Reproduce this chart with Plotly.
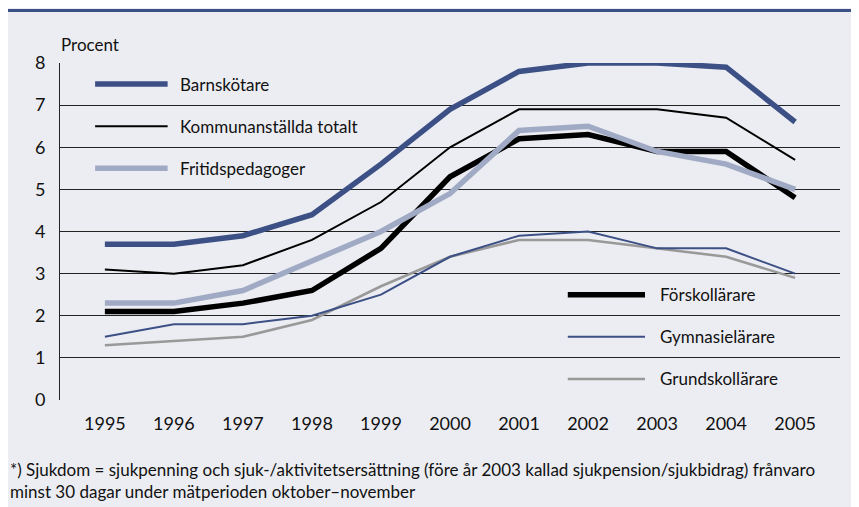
import plotly.graph_objects as go

years = [1995, 1996, 1997, 1998, 1999, 2000, 2001, 2002, 2003, 2004, 2005]

barnskotare = [3.7, 3.7, 3.9, 4.4, 5.6, 6.9, 7.8, 8.0, 8.0, 7.9, 6.6]
kommunanstallda = [3.1, 3.0, 3.2, 3.8, 4.7, 6.0, 6.9, 6.9, 6.9, 6.7, 5.7]
fritidspedagoger = [2.3, 2.3, 2.6, 3.3, 4.0, 4.9, 6.4, 6.5, 5.9, 5.6, 5.0]
forskollarare = [2.1, 2.1, 2.3, 2.6, 3.6, 5.3, 6.2, 6.3, 5.9, 5.9, 4.8]
gymnasielarare = [1.5, 1.8, 1.8, 2.0, 2.5, 3.4, 3.9, 4.0, 3.6, 3.6, 3.0]
grundskollarare = [1.3, 1.4, 1.5, 1.9, 2.7, 3.4, 3.8, 3.8, 3.6, 3.4, 2.9]

BLUE = "#3c5086"
LIGHT = "#a0aac5"
GRAY = "#999999"
BG = "#ecedf2"
FONT = "Lato"

# name, values, colour, width, legend block (left/right), legend y
series = [
    ("Barnskötare", barnskotare, BLUE, 5.5, "left", 7.5),
    ("Kommunanställda totalt", kommunanstallda, "black", 2, "left", 6.5),
    ("Fritidspedagoger", fritidspedagoger, LIGHT, 5.5, "left", 5.5),
    ("Förskollärare", forskollarare, "black", 5.5, "right", 2.5),
    ("Gymnasielärare", gymnasielarare, BLUE, 2, "right", 1.5),
    ("Grundskollärare", grundskollarare, GRAY, 2.5, "right", 0.5),
]

fig = go.Figure()
shapes = []
annotations = []

# thin lines first, thick ones on top
draw_order = [1, 5, 4, 0, 3, 2]
for i in draw_order:
    name, vals, col, w, _, _ = series[i]
    fig.add_trace(go.Scatter(x=years, y=vals, mode="lines", name=name,
                             line=dict(color=col, width=w), showlegend=False))

legend_x = {"left": (0.045, 0.138, 0.151), "right": (0.651, 0.75, 0.767)}
for name, vals, col, w, side, ly in series:
    x0, x1, xt = legend_x[side]
    shapes.append(dict(type="line", xref="paper", yref="y", x0=x0, x1=x1, y0=ly, y1=ly,
                       line=dict(color=col, width=w)))
    annotations.append(dict(text=name, xref="paper", yref="y", x=xt, y=ly, xanchor="left",
                            yanchor="middle", showarrow=False,
                            font=dict(family=FONT, size=17, color="#111")))

# blue rule along the top
shapes.append(dict(type="line", xref="paper", yref="paper", x0=-0.1, x1=1.1, y0=1.156, y1=1.156,
                   line=dict(color=BLUE, width=3), layer="above"))

annotations.append(dict(text="Procent", xref="paper", yref="paper", x=-0.001, y=1.018,
                        xanchor="left", yanchor="bottom", showarrow=False,
                        font=dict(family=FONT, size=17, color="#111")))
annotations.append(dict(
    text="*) Sjukdom = sjukpenning och sjuk-/aktivitetsersättning (före år 2003 kallad sjukpension/sjukbidrag) frånvaro<br>minst 30 dagar under mätperioden oktober–november",
    xref="paper", yref="paper", x=-0.0667, y=-0.168, xanchor="left", yanchor="top", align="left",
    showarrow=False, font=dict(family=FONT, size=17, color="#111")))

fig.update_layout(
    width=859, height=507,
    margin=dict(l=52, r=27, t=55, b=115),
    paper_bgcolor=BG, plot_bgcolor=BG,
    shapes=shapes, annotations=annotations,
    xaxis=dict(range=[1994.35, 2005.65], tickvals=years, showgrid=False, zeroline=False,
               showline=False, ticks="", tickfont=dict(family=FONT, size=18, color="#111"),
               ticklabelstandoff=11),
    yaxis=dict(range=[0, 8], dtick=1, showgrid=True, gridcolor="#222", gridwidth=1,
               zeroline=False, showline=True, linecolor="#222", linewidth=1, ticks="",
               tickfont=dict(family=FONT, size=18, color="#111"), ticklabelstandoff=10),
)

fig.write_html("out.html")
